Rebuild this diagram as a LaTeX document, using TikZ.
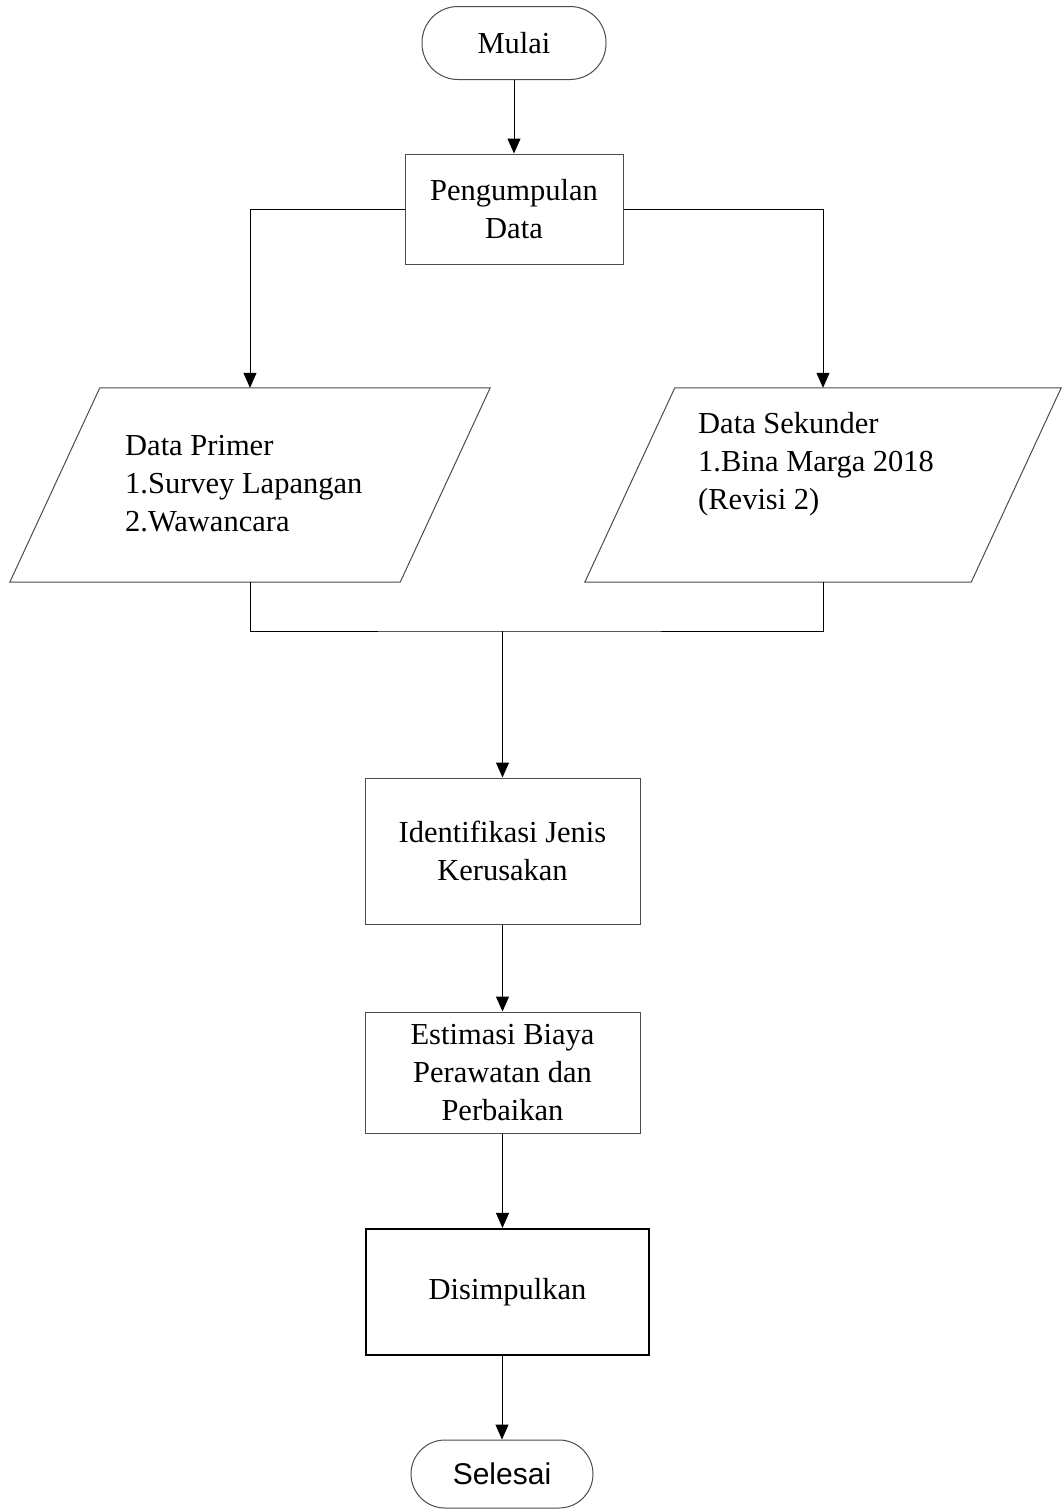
\documentclass[tikz,border=0pt]{standalone}
\usepackage{fontspec}
\setmainfont{Liberation Serif}
\newfontfamily\selfont{Liberation Sans}
\usetikzlibrary{arrows.meta}
\begin{document}
\begin{tikzpicture}[x=1pt,y=-1pt,
  every node/.style={font=\fontsize{30.5}{38}\selectfont, inner sep=0pt},
  box/.style={draw=black!70, line width=1pt, align=center},
  term/.style={draw=black!70, line width=1pt, rounded corners=36pt, minimum width=184pt, minimum height=73pt},
  para/.style={minimum width=390pt, minimum height=194pt},
  ptext/.style={anchor=west, align=left},
  conn/.style={line width=1pt},
  arr/.style={conn, -{Triangle[length=15pt,width=13pt]}}]
\useasboundingbox (0,0) rectangle (1061,1510);
\fill[white] (0,0) rectangle (1061,1510);

\node[term] (mulai) at (514,43) {Mulai};
\node[box, minimum width=218pt, minimum height=110pt] (kumpul) at (514,209) {Pengumpulan\\Data};

% parallelograms
\node[para] (prim) at (250,485) {};
\draw[draw=black!70, line width=1pt] ([xshift=45pt]prim.north west) -- ([xshift=45pt]prim.north east)
  -- ([xshift=-45pt]prim.south east) -- ([xshift=-45pt]prim.south west) -- cycle;
\node[ptext] (primtxt) at (125,484) {Data Primer\\1.Survey Lapangan\\2.Wawancara};

\node[para, minimum width=386pt] (sek) at (823,485) {};
\draw[draw=black!70, line width=1pt] ([xshift=45pt]sek.north west) -- ([xshift=45pt]sek.north east)
  -- ([xshift=-45pt]sek.south east) -- ([xshift=-45pt]sek.south west) -- cycle;
\node[ptext] (sektxt) at (698,464) {Data Sekunder\\1.Bina Marga 2018\\(Revisi 2)};

\node[box, minimum width=275pt, minimum height=146pt] (ident) at (502.5,851) {Identifikasi Jenis\\Kerusakan};
\node[box, minimum width=275pt, minimum height=121pt] (estim) at (502.5,1072.5) {Estimasi Biaya\\Perawatan dan\\Perbaikan};
\node[box, draw=black, line width=2.2pt, minimum width=283pt, minimum height=126pt] (simpul) at (507.5,1292) {Disimpulkan};
\node[term, minimum width=182pt, minimum height=68pt, rounded corners=34pt, font=\selfont\fontsize{30}{38}\selectfont] (selesai) at (502,1474) {Selesai};

\coordinate (merge) at (502.5,631);

% connectors
\draw[arr] (mulai) -- (kumpul);
\draw[arr] (kumpul.west) -| (prim.north);
\draw[arr] (kumpul.east) -| (sek.north);
\draw[conn] (prim.south) |- (merge) -| (sek.south);
\draw[arr] (merge) -- (ident.north);
\draw[arr] (ident) -- (estim);
\draw[arr] (estim.south) -- (estim.south |- simpul.north);
\draw[arr] (selesai.north |- simpul.south) -- (selesai.north);
\end{tikzpicture}
\end{document}
